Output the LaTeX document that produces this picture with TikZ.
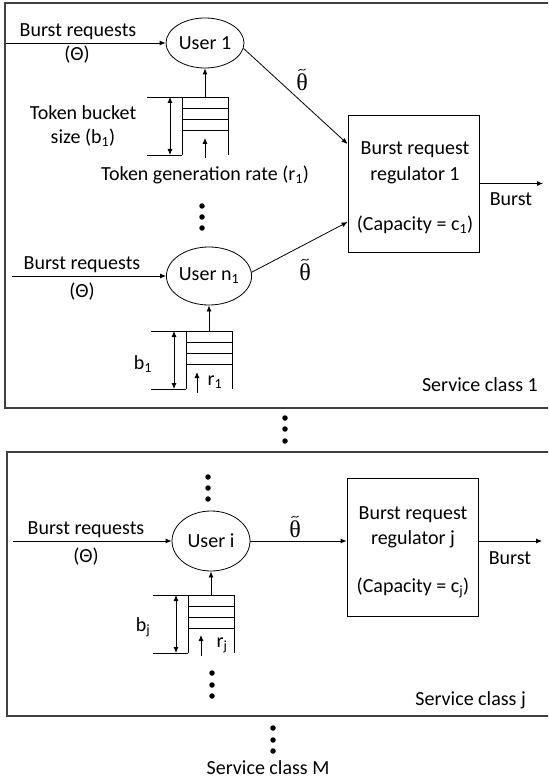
\documentclass[tikz,border=0pt]{standalone}
\usepackage{fontspec}
\setmainfont{Carlito}
\newfontfamily\grk{Liberation Serif}
\usetikzlibrary{arrows.meta,shapes.geometric}
\begin{document}
\begin{tikzpicture}[x=1pt,y=-1pt,
  every node/.style={font=\fontsize{20}{24}\selectfont, inner sep=0pt},
  arr/.style={-{Latex[length=6pt,width=5pt]}, line width=0.8pt},
  dbl/.style={{Latex[length=6pt,width=5pt]}-{Latex[length=6pt,width=5pt]}, line width=0.8pt},
  ln/.style={line width=0.8pt},
  frame/.style={line width=1.4pt, draw=black!75},
  user/.style={ellipse, draw, line width=0.8pt, minimum width=78pt, minimum height=50pt, inner sep=0pt},
  reg/.style={rectangle, draw, line width=0.8pt, minimum width=131pt, minimum height=137pt},
  dot/.style={circle, fill, inner sep=0pt, minimum size=5.5pt},
  tht/.style={font=\grk\fontsize{24}{28}\selectfont},
  tld/.pic={\draw[line width=0.75pt] (-3.6,0.9) .. controls +(2.3,-3.6) and +(-2.3,3.6) .. (3.6,-0.9);},
  bucket/.pic={
    \draw[ln] (-35,0) -- (46,0);
    \draw[ln] (0,0) -- (0,58);
    \draw[ln] (46,0) -- (46,58);
    \foreach \yy in {11,22,33} \draw[ln] (0,\yy) -- (46,\yy);
    \draw[ln] (-35,58) -- (0,58);
    \draw[dbl] (-12,0) -- (-12,58);
  }
]
\useasboundingbox (0,0) rectangle (548,783);
\clip (0,0) rectangle (548,783);

% frames
\draw[frame] (5,3) rectangle (560,408);
\draw[frame] (7,452) rectangle (560,716);

% ---------- Service class 1 ----------
\node[user] (u1) at (205,43) {User 1};
\node[user, minimum height=58pt] (un) at (209,276) {User n\textsubscript{1}};
\node[reg] (r1) at (413.5,183.5) {};
\node (r1a) at (415,150) {Burst request};
\node (r1b) at (415,175) {regulator 1};
\node (r1c) at (415,225) {(Capacity = c\textsubscript{1})};

\coordinate (s1) at (6,43);
\draw[arr] (s1) -- (u1.west);
\node (br1) at (78,32) {Burst requests};
\node (th1) at (77,55) {(Θ)};

\coordinate (s2) at (12,276);
\draw[arr] (s2) -- (un.west);
\node (br2) at (82,265) {Burst requests};
\node (th2) at (82,292) {(Θ)};

\pic at (182,97) {bucket};
\coordinate (b1top) at (205,97);
\draw[arr] (b1top) -- (u1.south);
\coordinate (g1a) at (205,158);
\coordinate (g1b) at (205,138);
\draw[arr] (g1a) -- (g1b);
\node (tb1) at (83,113) {Token bucket};
\node (tb2) at (83,138) {size (b\textsubscript{1})};
\node (tgr) at (205,175) {Token generation rate (r\textsubscript{1})};

\pic at (186,331) {bucket};
\coordinate (b2top) at (209,331);
\draw[arr] (b2top) -- (un.south);
\coordinate (g2a) at (197,393);
\coordinate (g2b) at (197,372);
\draw[arr] (g2a) -- (g2b);
\node (lb1) at (143,364) {b\textsubscript{1}};
\node (lr1) at (215,382) {r\textsubscript{1}};

\draw[arr] (u1.-8) -- ([yshift=39.5pt]r1.west);
\draw[arr] (un.5) -- ([yshift=-38.5pt]r1.west);
\node[tht] (t1) at (302,82) {θ};
\pic at ([yshift=3.5pt]t1.north) {tld};
\node[tht] (t2) at (305,272) {θ};
\pic at ([yshift=3.5pt]t2.north) {tld};

\coordinate (o1) at (543,183.5);
\draw[arr] (r1.east) -- (o1);
\node (bo1) at (511,199) {Burst};
\node[anchor=east] (sc1) at (538,385) {Service class 1};

\foreach \i/\yy in {1/206,2/217,3/228} \node[dot] (da\i) at (202,\yy) {};
\foreach \i/\yy in {1/418,2/429,3/441} \node[dot] (db\i) at (285,\yy) {};

% ---------- Service class j ----------
\node[user, minimum height=60pt] (ui) at (211,541) {User i};
\node[reg, minimum height=138pt] (rj) at (412.5,547) {};
\node (rja) at (413,515) {Burst request};
\node (rjb) at (413,539) {regulator j};
\node (rjc) at (413,588) {(Capacity = c\textsubscript{j})};

\coordinate (s3) at (13,541);
\draw[arr] (s3) -- (ui.west);
\node (br3) at (86,530) {Burst requests};
\node (th3) at (86,557) {(Θ)};

\pic at (188,595) {bucket};
\coordinate (b3top) at (211,595);
\draw[arr] (b3top) -- (ui.south);
\coordinate (g3a) at (201,656);
\coordinate (g3b) at (201,635);
\draw[arr] (g3a) -- (g3b);
\node (lbj) at (143,627) {b\textsubscript{j}};
\node (lrj) at (222,645) {r\textsubscript{j}};

\draw[arr] (ui.east) -- (ui.east -| rj.west);
\node[tht] (t3) at (295,529) {θ};
\pic at ([yshift=3.5pt]t3.north) {tld};
\coordinate (oj) at (542,541);
\draw[arr] (rj.east |- ui.east) -- (oj);
\node (boj) at (510,558) {Burst};
\node[anchor=east] (scj) at (526,700) {Service class j};

\foreach \i/\yy in {1/477,2/488,3/499} \node[dot] (dc\i) at (208,\yy) {};
\foreach \i/\yy in {1/673,2/685,3/696} \node[dot] (dd\i) at (212,\yy) {};
\foreach \i/\yy in {1/728,2/740,3/751} \node[dot] (de\i) at (273,\yy) {};
\node (scm) at (268,768) {Service class M};
\end{tikzpicture}
\end{document}
